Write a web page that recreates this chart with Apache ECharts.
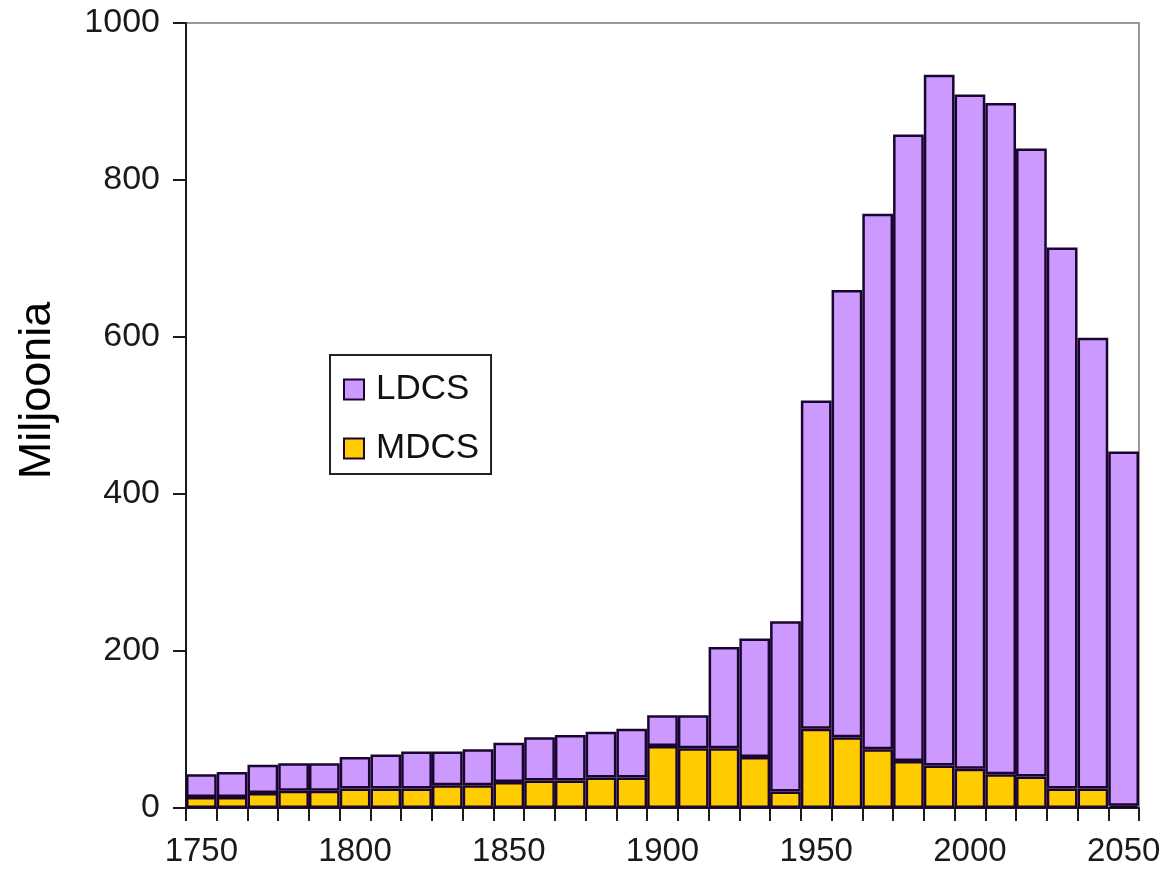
<!DOCTYPE html>
<html>
<head>
<meta charset="utf-8">
<script src="https://cdn.jsdelivr.net/npm/echarts@6/dist/echarts.min.js"></script>
<style>
html,body{margin:0;padding:0;background:#fff;}
#chart{width:1169px;height:869px;}
</style>
</head>
<body>
<div id="chart"></div>
<script>
const years = ['1750','1760','1770','1780','1790','1800','1810','1820','1830','1840',
  '1850','1860','1870','1880','1890','1900','1910','1920','1930','1940',
  '1950','1960','1970','1980','1990','2000','2010','2020','2030','2040','2050'];
const mdcs = [14,14,19,22,22,25,25,25,29,29,
  33,35,35,39,39,79,76,76,65,21,
  101,90,75,60,54,50,43,40,25,25,3];
const ldcs = [29,32,36,35,35,40,43,47,43,46,
  50,55,58,58,62,39,42,129,151,217,
  418,570,682,798,880,859,855,800,689,574,451];
const yTicks = [0,200,400,600,800,1000];
const yName = 'Miljoonia';

const font = 'Liberation Sans, Arial, sans-serif';
const chart = echarts.init(document.getElementById('chart'));
chart.setOption({
  animation: false,
  backgroundColor: '#fff',
  grid: {left: 186, right: 30, top: 23, bottom: 61, containLabel: false, outerBoundsMode: 'none',
    show: true, borderColor: '#9a9a9a', borderWidth: 2, backgroundColor: 'transparent'},
  legend: {
    data: ['LDCS','MDCS'],
    orient: 'vertical',
    left: 330, top: 355,
    padding: [17, 12, 8, 13],
    itemGap: 24,
    itemWidth: 20, itemHeight: 20,
    icon: 'rect',
    selectedMode: false,
    borderColor: '#222', borderWidth: 2,
    backgroundColor: '#fff',
    textStyle: {fontFamily: font, fontSize: 35, color: '#111', lineHeight: 30, padding: [0, 0, 0, 7]}
  },
  xAxis: {
    type: 'category',
    data: years,
    boundaryGap: true,
    axisLine: {lineStyle: {color: '#1a1a1a', width: 2}},
    axisTick: {show: true, interval: 0, length: 13, lineStyle: {color: '#1a1a1a', width: 2}},
    axisLabel: {interval: 4, margin: 27, fontFamily: font, fontSize: 33, color: '#1a1a1a'},
    splitLine: {show: false}
  },
  yAxis: {
    type: 'value',
    min: 0, max: 1000, interval: 200,
    name: yName,
    nameLocation: 'middle',
    nameRotate: 90,
    nameGap: 126,
    nameTextStyle: {fontFamily: font, fontSize: 45, color: '#000', padding: [0, 0, 0, 50]},
    axisLine: {show: true, lineStyle: {color: '#1a1a1a', width: 2}},
    axisTick: {show: true, length: 13, lineStyle: {color: '#1a1a1a', width: 2}},
    axisLabel: {margin: 26, fontFamily: font, fontSize: 34, color: '#1a1a1a',
      formatter: v => yTicks.includes(v) ? String(v) : ''},
    splitLine: {show: false}
  },
  series: [
    {name: 'MDCS', type: 'bar', stack: 'total', data: mdcs, barCategoryGap: '0%',
     itemStyle: {color: '#FFCC00', borderColor: '#1a0530', borderWidth: 2.5}},
    {name: 'LDCS', type: 'bar', stack: 'total', data: ldcs, barCategoryGap: '0%',
     itemStyle: {color: '#CC99FF', borderColor: '#1a0530', borderWidth: 2.5}}
  ]
});
</script>
</body>
</html>
